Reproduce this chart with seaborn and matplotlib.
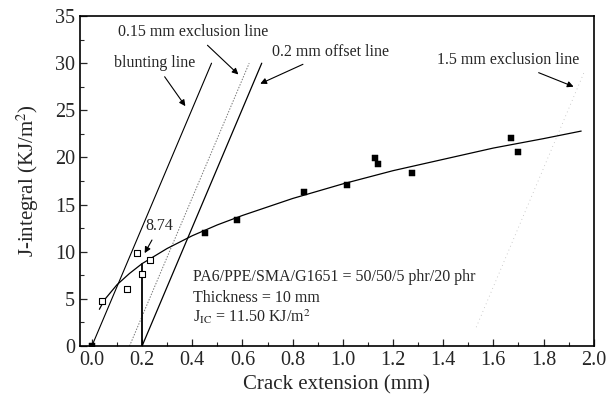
import numpy as np
import pandas as pd
import matplotlib
matplotlib.use('Agg')
import matplotlib.pyplot as plt
import seaborn as sns

# data
blunt_da = [0.04, 0.14, 0.18, 0.20, 0.23]          # open squares (blunting region)
blunt_J = [4.8, 6.1, 9.9, 7.6, 9.1]
valid_da = [0.0, 0.45, 0.58, 0.845, 1.016, 1.127, 1.139, 1.276, 1.669, 1.70]
valid_J = [0.0, 11.95, 13.4, 16.3, 17.1, 19.9, 19.3, 18.4, 22.1, 20.6]

# J-R fit curve
fit_da = [0.03, 0.05, 0.1, 0.15, 0.2, 0.3, 0.4, 0.5, 0.6, 0.8, 1.0, 1.2, 1.4, 1.6, 1.8, 1.95]
fit_J = [3.9, 4.9, 6.5, 7.7, 8.74, 10.35, 11.7, 12.85, 13.85, 15.65, 17.2, 18.6, 19.8, 21.0, 22.0, 22.8]

slope = 62.9                       # blunting line slope, kJ/m^2 per mm
line_offsets = [0.0, 0.15, 0.2, 1.5]
line_Jtop = 30.0
J_at_02 = 8.74
JIC = 11.50

sns.set_style('ticks')
plt.rcParams['font.family'] = ['Liberation Serif', 'DejaVu Serif']
plt.rcParams['mathtext.fontset'] = 'stix'
plt.rcParams['xtick.direction'] = 'in'
plt.rcParams['ytick.direction'] = 'in'

fig = plt.figure(figsize=(6.14, 4.01), dpi=100)
ax = fig.add_axes([0.130, 0.137, 0.837, 0.823])

# construction lines
blunt = pd.DataFrame({'x': [line_offsets[0], line_offsets[0] + line_Jtop / slope], 'y': [0, line_Jtop]})
sns.lineplot(data=blunt, x='x', y='y', color='black', lw=0.8, ax=ax)
excl = pd.DataFrame({'x': [line_offsets[1], line_offsets[1] + line_Jtop / slope], 'y': [0, line_Jtop]})
sns.lineplot(data=excl, x='x', y='y', color='#777777', lw=0.7, ls=(0, (1.5, 1.5)), ax=ax)
offs = pd.DataFrame({'x': [line_offsets[2], line_offsets[2] + line_Jtop / slope], 'y': [0, line_Jtop]})
sns.lineplot(data=offs, x='x', y='y', color='black', lw=0.9, ax=ax)
ex15 = pd.DataFrame({'x': [line_offsets[3] + 2.0 / slope, line_offsets[3] + 29.0 / slope], 'y': [2.0, 29.0]})
sns.lineplot(data=ex15, x='x', y='y', color='#bbbbbb', lw=0.6, ls=(0, (1, 4)), ax=ax)

# vertical line at 0.2 mm up to J = 8.74
ax.plot([0.2, 0.2], [0, J_at_02], color='black', lw=1.3)

# fit curve
fit = pd.DataFrame({'x': fit_da, 'y': fit_J})
sns.lineplot(data=fit, x='x', y='y', color='black', lw=0.9, ax=ax)

# points
sns.scatterplot(x=blunt_da, y=blunt_J, marker='s', s=16, facecolor='white',
                edgecolor='black', linewidth=0.8, ax=ax, zorder=5)
sns.scatterplot(x=valid_da, y=valid_J, marker='s', s=18, color='black',
                edgecolor='black', ax=ax, zorder=5)

# annotations
fs = 11.5
arrow = dict(arrowstyle='-|>', color='black', lw=0.8, mutation_scale=9)
ax.annotate('blunting line', xy=(0.379, 25.2), xytext=(0.252, 30.0),
            ha='center', va='center', fontsize=fs, arrowprops=arrow)
ax.annotate('0.15 mm exclusion line', xy=(0.592, 28.6), xytext=(0.405, 33.3),
            ha='center', va='center', fontsize=fs, arrowprops=arrow)
ax.annotate('0.2 mm offset line', xy=(0.661, 27.7), xytext=(0.95, 31.2),
            ha='center', va='center', fontsize=fs, arrowprops=arrow)
ax.annotate('1.5 mm exclusion line', xy=(1.93, 27.4), xytext=(1.658, 30.3),
            ha='center', va='center', fontsize=fs, arrowprops=arrow)
ax.annotate('8.74', xy=(0.205, 9.6), xytext=(0.27, 12.7),
            ha='center', va='center', fontsize=fs, arrowprops=arrow)

ax.text(0.405, 7.35, 'PA6/PPE/SMA/G1651 = 50/50/5 phr/20 phr', fontsize=fs, va='center')
ax.text(0.405, 5.15, 'Thickness = 10 mm', fontsize=fs, va='center')
ax.text(0.405, 3.1, r'J$_{\rm IC}$ = 11.50 KJ/m$^{2}$', fontsize=fs, va='center')

ax.set_xlim(-0.048, 2.0)
ax.set_ylim(0, 35)
ax.set_xticks(np.arange(0, 2.01, 0.2))
ax.set_xticklabels([f'{v:.1f}' for v in np.arange(0, 2.01, 0.2)])
ax.set_yticks(np.arange(0, 36, 5))
ax.set_xticks(np.arange(0.1, 2.0, 0.2), minor=True)
ax.set_yticks(np.arange(2.5, 35, 5), minor=True)
ax.tick_params(axis='both', which='major', labelsize=14.5, length=5, width=0.9, top=False, right=False)
ax.tick_params(axis='both', which='minor', length=3, width=0.8, top=False, right=False)
for sp in ax.spines.values():
    sp.set_visible(True)
    sp.set_linewidth(1.2)
    sp.set_color('black')

ax.set_xlabel('Crack extension (mm)', fontsize=15)
ax.set_ylabel(r'J-integral (KJ/m$^2$)', fontsize=15)
ax.yaxis.set_label_coords(-0.075, 0.5)

fig.savefig('out.png', dpi=100)
